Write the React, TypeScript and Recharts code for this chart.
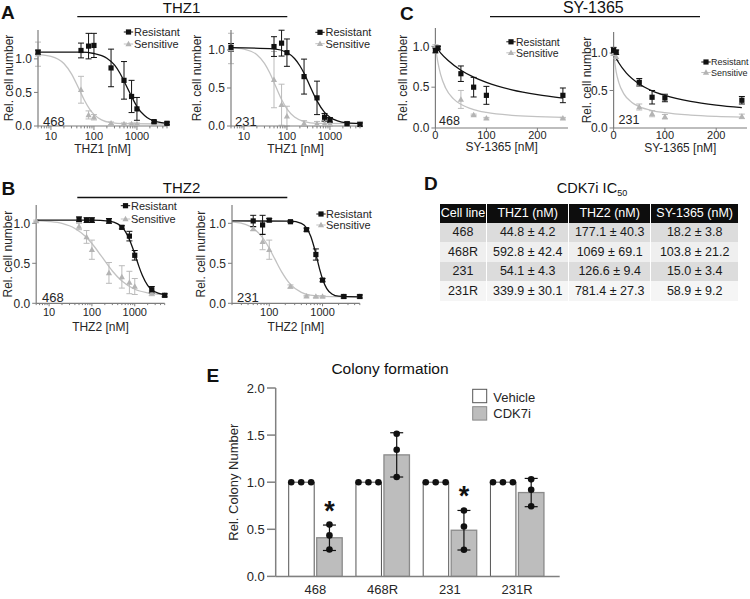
import React from 'react';
import { ComposedChart, Line, Scatter, XAxis, YAxis, ErrorBar, Bar } from 'recharts';

// ---------------- data ----------------
const THZ_CONC = [5, 50, 75, 100, 250, 500, 750, 1000, 2500, 5000];
const THZ2_CONC_R = [50, 75, 100, 250, 500, 750, 1000, 2500, 5000];
const SY_CONC = [0, 5, 50, 75, 100, 250];

// A - THZ1, 468
const THZ1_468_RES = [1.1, 1.125, 1.19, 1.2, 0.865, 0.68, 0.44, 0.255, 0.065, 0.04];
const THZ1_468_RES_ERR = [0.03, 0.11, 0.19, 0.18, 0.28, 0.28, 0.24, 0.17, 0.02, 0.02];
const THZ1_468_SEN = [1.07, 0.54, 0.165, 0.13, 0.04, 0.03, 0.03, 0.03, 0.03, 0.03];
const THZ1_468_SEN_ERR = [0.18, 0.2, 0.06, 0.04, 0.02, 0.015, 0.015, 0.015, 0.015, 0.015];
const THZ1_468_RES_FIT_X = [5, 50, 100, 200, 300, 400, 500, 600, 750, 1000, 1500, 2000, 3000, 5000];
const THZ1_468_RES_FIT_Y = [1.1, 1.1, 1.08, 1.01, 0.91, 0.79, 0.67, 0.565, 0.44, 0.29, 0.156, 0.1, 0.06, 0.04];
const THZ1_468_SEN_FIT_X = [5, 10, 20, 30, 45, 60, 80, 100, 150, 250, 500, 5000];
const THZ1_468_SEN_FIT_Y = [1.063, 1.038, 0.93, 0.776, 0.55, 0.384, 0.248, 0.173, 0.091, 0.05, 0.035, 0.03];

// A - THZ1, 231
const THZ1_231_RES = [1.035, 1.045, 1.09, 0.965, 0.65, 0.37, 0.115, 0.08, 0.03, 0.02];
const THZ1_231_RES_ERR = [0.05, 0.13, 0.17, 0.18, 0.23, 0.22, 0.05, 0.03, 0.02, 0.02];
const THZ1_231_SEN = [1.02, 0.61, 0.28, 0.13, 0.035, 0.03, 0.03, 0.03, 0.03, 0.03];
const THZ1_231_SEN_ERR = [0.2, 0.37, 0.27, 0.13, 0.035, 0.03, 0.03, 0.03, 0.03, 0.03];
const THZ1_231_RES_FIT_X = [5, 50, 100, 150, 200, 250, 340, 500, 750, 1000, 1500, 2500, 5000];
const THZ1_231_RES_FIT_Y = [1.03, 1.015, 0.967, 0.888, 0.793, 0.693, 0.53, 0.33, 0.179, 0.115, 0.067, 0.042, 0.034];
const THZ1_231_SEN_FIT_X = [5, 10, 20, 30, 40, 54, 75, 100, 150, 250, 500, 5000];
const THZ1_231_SEN_FIT_Y = [1.03, 1.01, 0.938, 0.824, 0.697, 0.53, 0.349, 0.225, 0.117, 0.059, 0.035, 0.03];

// B - THZ2, 468
const THZ2_468_RES = [1.05, 1.04, 1.04, 1.03, 0.95, 0.84, 0.6, 0.17, 0.1];
const THZ2_468_RES_ERR = [0.03, 0.03, 0.03, 0.03, 0.02, 0.06, 0.06, 0.04, 0.02];
const THZ2_468_SEN = [1.03, 0.96, 0.83, 0.67, 0.38, 0.33, 0.26, 0.21, 0.125, 0.1];
const THZ2_468_SEN_ERR = [0.01, 0.04, 0.08, 0.12, 0.13, 0.14, 0.14, 0.1, 0.03, 0.01];
const THZ2_468_RES_FIT_X = [5, 100, 250, 400, 500, 600, 750, 900, 1069, 1250, 1500, 2000, 2500, 3500, 5000];
const THZ2_468_RES_FIT_Y = [1.04, 1.04, 1.028, 0.993, 0.953, 0.899, 0.799, 0.689, 0.57, 0.462, 0.35, 0.224, 0.168, 0.126, 0.109];
const THZ2_468_SEN_FIT_X = [5, 10, 20, 40, 70, 100, 177, 300, 500, 1000, 2000, 5000];
const THZ2_468_SEN_FIT_Y = [1.034, 1.023, 0.998, 0.936, 0.838, 0.748, 0.57, 0.404, 0.278, 0.176, 0.131, 0.109];

// B - THZ2, 231
const THZ2_231_RES = [1.03, 0.98, 1.04, 1.02, 0.92, 0.61, 0.29, 0.085, 0.085];
const THZ2_231_RES_ERR = [0.07, 0.12, 0.02, 0.01, 0.02, 0.07, 0.02, 0.02, 0.02];
const THZ2_231_SEN = [0.93, 0.77, 0.67, 0.21, 0.09, 0.085, 0.085, 0.085, 0.085];
const THZ2_231_SEN_ERR = [0.02, 0.1, 0.12, 0.02, 0.01, 0.01, 0.01, 0.01, 0.01];
const THZ2_231_RES_FIT_X = [20, 250, 400, 500, 600, 700, 790, 900, 1000, 1200, 1500, 2000, 5000];
const THZ2_231_RES_FIT_Y = [1.03, 1.027, 1.0, 0.942, 0.839, 0.694, 0.555, 0.405, 0.304, 0.184, 0.117, 0.089, 0.08];
const THZ2_231_SEN_FIT_X = [20, 30, 50, 75, 100, 127, 170, 250, 400, 700, 1500, 5000];
const THZ2_231_SEN_FIT_Y = [1.019, 1.001, 0.938, 0.82, 0.688, 0.555, 0.396, 0.236, 0.137, 0.096, 0.083, 0.08];

// C - SY-1365, 468
const SY_468_RES = [0.95, 0.98, 0.665, 0.5, 0.4, 0.4];
const SY_468_RES_ERR = [0.03, 0.02, 0.095, 0.12, 0.11, 0.09];
const SY_468_SEN = [1.0, 0.99, 0.35, 0.16, 0.12, 0.12];
const SY_468_SEN_ERR = [0.02, 0.02, 0.11, 0.01, 0.01, 0.01];
const SY_468_RES_FIT_X = [0, 5, 10, 25, 50, 75, 100, 150, 200, 250];
const SY_468_RES_FIT_Y = [1.0, 0.959, 0.921, 0.826, 0.708, 0.623, 0.559, 0.468, 0.408, 0.365];
const SY_468_SEN_FIT_X = [0, 5, 10, 20, 35, 50, 75, 100, 150, 200, 250];
const SY_468_SEN_FIT_Y = [1.0, 0.8, 0.66, 0.49, 0.36, 0.29, 0.225, 0.19, 0.155, 0.14, 0.13];

// C - SY-1365, 231
const SY_231_RES = [1.035, 1.01, 0.61, 0.41, 0.4, 0.37];
const SY_231_RES_ERR = [0.04, 0.03, 0.05, 0.09, 0.05, 0.05];
const SY_231_SEN = [0.99, 0.95, 0.28, 0.19, 0.15, 0.155];
const SY_231_SEN_ERR = [0.02, 0.05, 0.04, 0.04, 0.03, 0.03];
const SY_231_RES_FIT_X = [0, 5, 10, 25, 50, 75, 100, 150, 200, 250];
const SY_231_RES_FIT_Y = [1.0, 0.93, 0.87, 0.732, 0.587, 0.496, 0.435, 0.354, 0.305, 0.272];
const SY_231_SEN_FIT_X = [0, 5, 10, 20, 35, 50, 75, 100, 150, 200, 250];
const SY_231_SEN_FIT_Y = [1.0, 0.75, 0.609, 0.455, 0.344, 0.286, 0.233, 0.204, 0.172, 0.155, 0.145];

// axis ticks
const LOG_MAJORS = [10, 100, 1000];
const LOG_MINORS = [5, 6, 7, 8, 9, 20, 30, 40, 50, 60, 70, 80, 90, 200, 300, 400, 500, 600, 700, 800, 900, 2000, 3000, 4000, 5000];
const LOG_MAJORS_B2 = [100, 1000];
const LOG_MINORS_B2 = [20, 30, 40, 50, 60, 70, 80, 90, 200, 300, 400, 500, 600, 700, 800, 900, 2000, 3000, 4000, 5000];
const LIN_MAJORS = [0, 100, 200];
const Y_TICKS = [0, 0.5, 1];

// D - table
const TABLE_HEAD = ['Cell line', 'THZ1 (nM)', 'THZ2 (nM)', 'SY-1365 (nM)'];
const TABLE_CELLS = ['468', '468R', '231', '231R'];
const TABLE_THZ1 = ['44.8 ± 4.2', '592.8 ± 42.4', '54.1 ± 4.3', '339.9 ± 30.1'];
const TABLE_THZ2 = ['177.1 ± 40.3', '1069 ± 69.1', '126.6 ± 9.4', '781.4 ± 27.3'];
const TABLE_SY = ['18.2 ± 3.8', '103.8 ± 21.2', '15.0 ± 3.4', '58.9 ± 9.2'];

// E - colony formation
const COLONY_CELLS = ['468', '468R', '231', '231R'];
const VEHICLE_MEAN = [1, 1, 1, 1];
const VEHICLE_REPS = [[1, 1, 1], [1, 1, 1], [1, 1, 1], [1, 1, 1]];
const CDK_MEAN = [0.41, 1.29, 0.49, 0.89];
const CDK_SD = [0.135, 0.235, 0.21, 0.15];
const CDK_REPS = [[0.55, 0.435, 0.285], [1.515, 1.345, 1.055], [0.7, 0.53, 0.283], [1.03, 0.92, 0.745]];
const CDK_SIG = ['*', '', '*', ''];
const COLONY_TICKS = [0, 0.5, 1, 1.5, 2];

// ---------------- helpers ----------------
const FONT = '"Liberation Sans", Arial, Helvetica, sans-serif';
const AX = '#7d7d7d';
const TXT = '#262626';
const RES_C = '#111111';
const SEN_MARK = '#b4b4b4';
const SEN_LINE = '#c2c2c2';
const SEN_ERR = '#bbbbbb';

const pts = (xs: number[], ys: number[], es?: number[]) =>
  xs.map((x, i) => ({ x, y: ys[i], e: es ? es[i] : 0 }));

const colonyData = COLONY_CELLS.map((c, i) => ({
  cell: c,
  vehicle: VEHICLE_MEAN[i],
  vehReps: VEHICLE_REPS[i],
  cdk: CDK_MEAN[i],
  cdkSd: CDK_SD[i],
  cdkReps: CDK_REPS[i],
  sig: CDK_SIG[i],
}));

function Square(p: any) {
  const { cx, cy } = p;
  if (cx == null || cy == null) return null;
  return <rect x={cx - 2.6} y={cy - 2.6} width={5.2} height={5.2} fill={RES_C} />;
}
function Tri(p: any) {
  const { cx, cy } = p;
  if (cx == null || cy == null) return null;
  return <path d={`M${cx},${cy - 3.2}L${cx + 3.1},${cy + 2.3}L${cx - 3.1},${cy + 2.3}Z`} fill={SEN_MARK} />;
}

const makeXTick = (majors: number[], ts: number, tm: number, fs: number) => (p: any) => {
  const { x, y, payload } = p;
  const v = payload.value;
  const major = majors.indexOf(v) >= 0;
  const ay = y - ts - tm;
  return (
    <g>
      <line x1={x} x2={x} y1={ay} y2={ay + (major ? ts : ts * 0.6)} stroke={AX} strokeWidth={1} />
      {major && (
        <text x={x} y={y} dy="0.71em" textAnchor="middle" fontSize={fs} fill={TXT}>
          {String(v)}
        </text>
      )}
    </g>
  );
};

function DoseChart(props: any) {
  const { px, py, pw, ph, yw, xh, mr = 8, scale, xDomain, majors, minors, ts, tm, yMax, res, sen, resFit, senFit, xLabel } = props;
  const mt = 8;
  const mb = 4;
  const W = yw + pw + mr;
  const H = mt + ph + xh + mb;
  return (
    <div style={{ position: 'absolute', left: px - yw, top: py - mt, width: W, height: H }}>
      <ComposedChart width={W} height={H} margin={{ top: mt, right: mr, bottom: mb, left: 0 }}>
        <XAxis
          dataKey="x"
          type="number"
          scale={scale}
          domain={xDomain}
          ticks={[...majors, ...minors]}
          interval={0}
          height={xh}
          tickSize={ts}
          tickMargin={tm}
          tickLine={false}
          axisLine={{ stroke: AX, strokeWidth: 1.2 }}
          tick={makeXTick(majors, ts, tm, 11)}
          label={{ value: xLabel, position: 'insideBottom', offset: 0, fontSize: 12, fill: TXT }}
        />
        <YAxis
          dataKey="y"
          type="number"
          domain={[0, yMax]}
          ticks={Y_TICKS}
          width={yw}
          tickSize={4}
          tickMargin={2}
          tickFormatter={(v: number) => v.toFixed(1)}
          tick={{ fontSize: 12, fill: TXT }}
          axisLine={{ stroke: AX, strokeWidth: 1.2 }}
          tickLine={{ stroke: AX }}
          label={{ value: 'Rel. cell number', angle: -90, position: 'insideLeft', offset: 9, fontSize: 12, fill: TXT, style: { textAnchor: 'middle' } }}
        />
        <Line data={senFit} dataKey="y" type="monotone" stroke={SEN_LINE} strokeWidth={1.3} dot={false} isAnimationActive={false} />
        <Scatter data={sen} dataKey="y" shape={Tri} isAnimationActive={false}>
          <ErrorBar dataKey="e" direction="y" width={3} stroke={SEN_ERR} strokeWidth={1} />
        </Scatter>
        <Line data={resFit} dataKey="y" type="monotone" stroke={RES_C} strokeWidth={1.3} dot={false} isAnimationActive={false} />
        <Scatter data={res} dataKey="y" shape={Square} isAnimationActive={false}>
          <ErrorBar dataKey="e" direction="y" width={3} stroke={RES_C} strokeWidth={1} />
        </Scatter>
      </ComposedChart>
    </div>
  );
}

function DoseLegend({ mx, y1, y2, tx, fs }: { mx: number; y1: number; y2: number; tx: number; fs: number }) {
  return (
    <g>
      <line x1={mx - 4.7} x2={mx + 4.7} y1={y1} y2={y1} stroke={RES_C} strokeWidth={1} />
      <rect x={mx - 2.6} y={y1 - 2.6} width={5.2} height={5.2} fill={RES_C} />
      <text x={tx} y={y1} dominantBaseline="central" fontSize={fs} fill={TXT}>Resistant</text>
      <line x1={mx - 4.7} x2={mx + 4.7} y1={y2} y2={y2} stroke={SEN_LINE} strokeWidth={1} />
      <path d={`M${mx},${y2 - 3.2}L${mx + 3.1},${y2 + 2.3}L${mx - 3.1},${y2 + 2.3}Z`} fill={SEN_MARK} />
      <text x={tx} y={y2} dominantBaseline="central" fontSize={fs} fill={TXT}>Sensitive</text>
    </g>
  );
}

function VehShape(p: any) {
  const { x, y, width, height, payload } = p;
  if (x == null || !payload) return null;
  const unit = height / payload.vehicle;
  return (
    <g>
      <rect x={x} y={y} width={width} height={height} fill="#ffffff" stroke="#555555" strokeWidth={1} />
      {payload.vehReps.map((v: number, i: number) => (
        <circle key={i} cx={x + width * (0.1 + 0.39 * i)} cy={y + height - v * unit} r={3.3} fill="#111" />
      ))}
    </g>
  );
}

function CdkShape(p: any) {
  const { x, y, width, height, payload } = p;
  if (x == null || !payload) return null;
  const unit = height / payload.cdk;
  const base = y + height;
  const capY = base - (payload.cdk + payload.cdkSd) * unit;
  return (
    <g>
      <rect x={x} y={y} width={width} height={height} fill="#bdbdbd" stroke="#8a8a8a" strokeWidth={1.3} />
      {payload.cdkReps.map((v: number, i: number) => (
        <circle key={i} cx={x + width / 2} cy={base - v * unit} r={3.3} fill="#111" />
      ))}
      {payload.sig && (
        <text x={x + width / 2} y={capY - 5} textAnchor="middle" fontSize={27} fontWeight="bold" fill="#111">
          {payload.sig}
        </text>
      )}
    </g>
  );
}

const COL_W = [46, 82.3, 81.7, 88.3];
const ROW_BG = ['#dcdcdc', '#efefef', '#dcdcdc', '#f5f5f5'];

function IcTable() {
  const rows = TABLE_CELLS.map((c, i) => [c, TABLE_THZ1[i], TABLE_THZ2[i], TABLE_SY[i]]);
  const cell = (i: number) => ({
    width: COL_W[i],
    boxSizing: 'border-box' as const,
    display: 'flex',
    alignItems: 'center',
    justifyContent: 'center',
    whiteSpace: 'nowrap' as const,
    borderLeft: i ? '1.5px solid #ffffff' : 'none',
  });
  return (
    <div style={{ position: 'absolute', left: 440, top: 204, width: 298.3, fontSize: 12.5, lineHeight: 1 }}>
      <div style={{ display: 'flex', height: 19, background: '#0d0d0d', color: '#ffffff' }}>
        {TABLE_HEAD.map((h, i) => (
          <div key={i} style={cell(i)}>{h}</div>
        ))}
      </div>
      {rows.map((r, ri) => (
        <div key={ri} style={{ display: 'flex', height: 19.4, background: ROW_BG[ri], color: '#1a1a1a' }}>
          {r.map((t, i) => (
            <div key={i} style={cell(i)}>{t}</div>
          ))}
        </div>
      ))}
    </div>
  );
}

export default function App() {
  return (
    <div style={{ position: 'absolute', left: 0, top: 0, width: 750, height: 599, overflow: 'hidden', background: '#ffffff', fontFamily: FONT, color: TXT }}>
      {/* A */}
      <DoseChart px={38} py={30} pw={129} ph={96} yw={38} xh={26.5} scale="log" xDomain={[5, 5000]} majors={LOG_MAJORS} minors={LOG_MINORS} ts={4} tm={2.2} yMax={1.43}
        res={pts(THZ_CONC, THZ1_468_RES, THZ1_468_RES_ERR)} sen={pts(THZ_CONC, THZ1_468_SEN, THZ1_468_SEN_ERR)}
        resFit={pts(THZ1_468_RES_FIT_X, THZ1_468_RES_FIT_Y)} senFit={pts(THZ1_468_SEN_FIT_X, THZ1_468_SEN_FIT_Y)} xLabel="THZ1 [nM]" />
      <DoseChart px={230.7} py={30} pw={129} ph={96} yw={43} xh={26.5} scale="log" xDomain={[5, 5000]} majors={LOG_MAJORS} minors={LOG_MINORS} ts={4} tm={2.2} yMax={1.263}
        res={pts(THZ_CONC, THZ1_231_RES, THZ1_231_RES_ERR)} sen={pts(THZ_CONC, THZ1_231_SEN, THZ1_231_SEN_ERR)}
        resFit={pts(THZ1_231_RES_FIT_X, THZ1_231_RES_FIT_Y)} senFit={pts(THZ1_231_SEN_FIT_X, THZ1_231_SEN_FIT_Y)} xLabel="THZ1 [nM]" />
      {/* B */}
      <DoseChart px={36.5} py={205} pw={128.5} ph={98.3} yw={37.2} xh={27.7} scale="log" xDomain={[5, 5000]} majors={LOG_MAJORS} minors={LOG_MINORS} ts={3} tm={2} yMax={1.229}
        res={pts(THZ2_CONC_R, THZ2_468_RES, THZ2_468_RES_ERR)} sen={pts(THZ_CONC, THZ2_468_SEN, THZ2_468_SEN_ERR)}
        resFit={pts(THZ2_468_RES_FIT_X, THZ2_468_RES_FIT_Y)} senFit={pts(THZ2_468_SEN_FIT_X, THZ2_468_SEN_FIT_Y)} xLabel="THZ2 [nM]" />
      <DoseChart px={231.7} py={205} pw={127.8} ph={98.3} yw={40} xh={27.7} scale="log" xDomain={[20, 5000]} majors={LOG_MAJORS_B2} minors={LOG_MINORS_B2} ts={3} tm={2} yMax={1.229}
        res={pts(THZ2_CONC_R, THZ2_231_RES, THZ2_231_RES_ERR)} sen={pts(THZ2_CONC_R, THZ2_231_SEN, THZ2_231_SEN_ERR)}
        resFit={pts(THZ2_231_RES_FIT_X, THZ2_231_RES_FIT_Y)} senFit={pts(THZ2_231_SEN_FIT_X, THZ2_231_SEN_FIT_Y)} xLabel="THZ2 [nM]" />
      {/* C */}
      <DoseChart px={435.7} py={28.3} pw={132.6} ph={100} yw={41.4} xh={23.2} scale="linear" xDomain={[0, 260]} majors={LIN_MAJORS} minors={[]} ts={3} tm={0} yMax={1.225}
        res={pts(SY_CONC, SY_468_RES, SY_468_RES_ERR)} sen={pts(SY_CONC, SY_468_SEN, SY_468_SEN_ERR)}
        resFit={pts(SY_468_RES_FIT_X, SY_468_RES_FIT_Y)} senFit={pts(SY_468_SEN_FIT_X, SY_468_SEN_FIT_Y)} xLabel="SY-1365 [nM]" />
      <DoseChart px={613.3} py={31.7} pw={133.4} ph={96} yw={35.6} xh={23.8} mr={3} scale="linear" xDomain={[0, 260]} majors={LIN_MAJORS} minors={[]} ts={3} tm={0} yMax={1.28}
        res={pts(SY_CONC, SY_231_RES, SY_231_RES_ERR)} sen={pts(SY_CONC, SY_231_SEN, SY_231_SEN_ERR)}
        resFit={pts(SY_231_RES_FIT_X, SY_231_RES_FIT_Y)} senFit={pts(SY_231_SEN_FIT_X, SY_231_SEN_FIT_Y)} xLabel="SY-1365 [nM]" />

      {/* D */}
      <IcTable />

      {/* E */}
      <div style={{ position: 'absolute', left: 224.3, top: 380.3, width: 339.7, height: 218.7 }}>
        <ComposedChart width={339.7} height={218.7} data={colonyData} margin={{ top: 8, right: 4, bottom: 0, left: 0 }} barGap={2.5}>
          <XAxis dataKey="cell" padding={{ left: 6, right: 9 }} height={22.3} tickLine={false} tickSize={0} tickMargin={8.8}
            axisLine={{ stroke: '#808080', strokeWidth: 1.5 }} tick={{ fontSize: 13, fill: TXT }} />
          <YAxis type="number" domain={[0, 2]} ticks={COLONY_TICKS} width={51.7} tickSize={8.7} tickMargin={2.3}
            tickFormatter={(v: number) => v.toFixed(1)} tick={{ fontSize: 13, fill: TXT }}
            axisLine={{ stroke: '#808080', strokeWidth: 1.5 }} tickLine={{ stroke: '#808080', strokeWidth: 1.5 }}
            label={{ value: 'Rel. Colony Number', angle: -90, position: 'insideLeft', offset: 9, fontSize: 13, fill: TXT, style: { textAnchor: 'middle' } }} />
          <Bar dataKey="vehicle" barSize={25.5} shape={VehShape} isAnimationActive={false} />
          <Bar dataKey="cdk" barSize={25.5} shape={CdkShape} isAnimationActive={false}>
            <ErrorBar dataKey="cdkSd" direction="y" width={6.5} stroke="#111" strokeWidth={1.2} />
          </Bar>
        </ComposedChart>
      </div>

      {/* overlay text */}
      <svg width={750} height={599} style={{ position: 'absolute', left: 0, top: 0, pointerEvents: 'none', fontFamily: FONT }}>
        <g fontWeight="bold" fontSize={19} fill="#111">
          <text x={1} y={18.5}>A</text>
          <text x={1.5} y={195}>B</text>
          <text x={400} y={20}>C</text>
          <text x={424} y={190}>D</text>
          <text x={206.5} y={381.5}>E</text>
        </g>
        <text x={181.5} y={12.7} textAnchor="middle" fontSize={15} fill="#111">THZ1</text>
        <line x1={77.3} x2={287.3} y1={16.7} y2={16.7} stroke="#111" strokeWidth={1.3} />
        <text x={181.5} y={193.3} textAnchor="middle" fontSize={15} fill="#111">THZ2</text>
        <line x1={77.3} x2={287.3} y1={197.5} y2={197.5} stroke="#111" strokeWidth={1.3} />
        <text x={593.3} y={12.7} textAnchor="middle" fontSize={16} fill="#111">SY-1365</text>
        <line x1={490} x2={700} y1={16.7} y2={16.7} stroke="#111" strokeWidth={1.3} />

        <DoseLegend mx={128.5} y1={32} y2={44} tx={134} fs={11} />
        <DoseLegend mx={320} y1={32.3} y2={43.7} tx={325.5} fs={11} />
        <DoseLegend mx={125.5} y1={205.7} y2={219} tx={131} fs={11} />
        <DoseLegend mx={321} y1={214} y2={225} tx={326} fs={11} />
        <DoseLegend mx={511} y1={41.8} y2={52.8} tx={516} fs={10.5} />
        <DoseLegend mx={706} y1={62} y2={72.5} tx={711} fs={9} />

        <g fontSize={13} fill={TXT}>
          <text x={43} y={125.5}>468</text>
          <text x={235} y={125.5}>231</text>
          <text x={42} y={302}>468</text>
          <text x={237} y={302}>231</text>
          <text x={439} y={124.5} fontSize={12.5}>468</text>
          <text x={618.5} y={124} fontSize={12.5}>231</text>
        </g>

        <text x={556.7} y={193.3} fontSize={14.5} fill="#111">
          CDK7i IC<tspan fontSize={9} dy={3}>50</tspan>
        </text>

        <text x={390} y={374} textAnchor="middle" fontSize={15.5} fill="#111">Colony formation</text>
        <rect x={472.7} y={389.3} width={14} height={13.4} fill="#ffffff" stroke="#555" strokeWidth={1} />
        <text x={493.3} y={401.5} fontSize={13} fill={TXT}>Vehicle</text>
        <rect x={472.7} y={406.7} width={14} height={13.4} fill="#bdbdbd" stroke="#8a8a8a" strokeWidth={1} />
        <text x={493.3} y={418.3} fontSize={13} fill={TXT}>CDK7i</text>
      </svg>
    </div>
  );
}
